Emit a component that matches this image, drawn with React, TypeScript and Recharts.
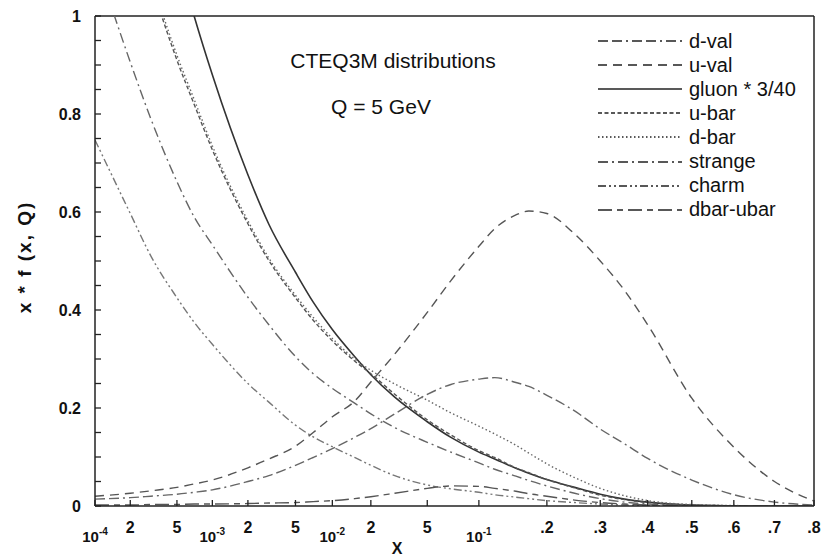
import { LineChart, Line, XAxis, YAxis, Legend, ReferenceLine } from 'recharts';

const xs = [1e-4, 2e-4, 3e-4, 5e-4, 7e-4, 1e-3, 2e-3, 3e-3, 5e-3, 7e-3, 1e-2, 1.5e-2, 2e-2, 3e-2, 5e-2, 7e-2, 0.1, 0.12, 0.15, 0.17, 0.2, 0.25, 0.3, 0.35, 0.4, 0.5, 0.6, 0.7, 0.8];

const dVal = [0.014, 0.017, 0.02, 0.024, 0.028, 0.033, 0.05, 0.062, 0.083, 0.099, 0.117, 0.14, 0.158, 0.188, 0.228, 0.248, 0.259, 0.262, 0.252, 0.244, 0.226, 0.194, 0.157, 0.127, 0.097, 0.053, 0.023, 0.008, 0.002];
const uVal = [0.02, 0.026, 0.031, 0.038, 0.045, 0.053, 0.078, 0.096, 0.122, 0.15, 0.182, 0.214, 0.253, 0.31, 0.395, 0.46, 0.53, 0.566, 0.594, 0.602, 0.597, 0.555, 0.5, 0.44, 0.37, 0.22, 0.12, 0.05, 0.01];
const gluon = [1.79, 1.49, 1.32, 1.125, 1.0, 0.88, 0.676, 0.575, 0.477, 0.416, 0.36, 0.305, 0.268, 0.222, 0.172, 0.14, 0.11, 0.096, 0.077, 0.067, 0.054, 0.038, 0.024, 0.014, 0.008, 0.002, 0.0005, 0, 0];
const uBar = [1.48, 1.22, 1.07, 0.91, 0.82, 0.727, 0.576, 0.501, 0.425, 0.379, 0.337, 0.296, 0.27, 0.228, 0.176, 0.145, 0.113, 0.099, 0.078, 0.068, 0.054, 0.037, 0.022, 0.013, 0.007, 0.002, 0.0005, 0, 0];
const dBar = [1.49, 1.23, 1.08, 0.92, 0.83, 0.735, 0.582, 0.506, 0.43, 0.385, 0.342, 0.3, 0.277, 0.249, 0.216, 0.19, 0.163, 0.147, 0.124, 0.108, 0.086, 0.058, 0.036, 0.021, 0.011, 0.003, 0.001, 0, 0];
const strange = [1.12, 0.906, 0.79, 0.662, 0.59, 0.533, 0.426, 0.37, 0.305, 0.27, 0.24, 0.21, 0.188, 0.16, 0.13, 0.11, 0.088, 0.075, 0.061, 0.052, 0.041, 0.026, 0.015, 0.008, 0.004, 0.001, 0, 0, 0];
const charm = [0.747, 0.597, 0.51, 0.425, 0.375, 0.33, 0.25, 0.212, 0.165, 0.141, 0.121, 0.099, 0.083, 0.062, 0.043, 0.035, 0.028, 0.023, 0.018, 0.015, 0.011, 0.007, 0.004, 0.002, 0.001, 0, 0, 0, 0];
const dbarUbar = [0.002, 0.002, 0.003, 0.003, 0.004, 0.004, 0.005, 0.006, 0.007, 0.009, 0.011, 0.015, 0.019, 0.026, 0.036, 0.041, 0.04, 0.036, 0.03, 0.025, 0.02, 0.012, 0.007, 0.004, 0.002, 0.001, 0, 0, 0];

const xTickValues = [1e-4, 2e-4, 5e-4, 1e-3, 2e-3, 5e-3, 1e-2, 2e-2, 5e-2, 0.1, 0.2, 0.3, 0.4, 0.5, 0.6, 0.7, 0.8];
const xTickLabels = ['10-4', '2', '5', '10-3', '2', '5', '10-2', '2', '5', '10-1', '.2', '.3', '.4', '.5', '.6', '.7', '.8'];
const yTickValues = [0, 0.05, 0.1, 0.15, 0.2, 0.25, 0.3, 0.35, 0.4, 0.45, 0.5, 0.55, 0.6, 0.65, 0.7, 0.75, 0.8, 0.85, 0.9, 0.95, 1];
const yTickLabels = ['0', '', '', '', '0.2', '', '', '', '0.4', '', '', '', '0.6', '', '', '', '0.8', '', '', '', '1'];

// x axis is logarithmic at small x and stretched towards linear at large x
const pos = (x: number) => Math.log10(x) + 2.8 * x;

const data = xs.map((x, i) => ({
  pos: pos(x),
  dval: dVal[i],
  uval: uVal[i],
  gluon: gluon[i],
  ubar: uBar[i],
  dbar: dBar[i],
  strange: strange[i],
  charm: charm[i],
  dbarubar: dbarUbar[i],
}));

const series = [
  { key: 'dval', name: 'd-val', dash: '10 4 10 4 2 4', color: '#666' },
  { key: 'uval', name: 'u-val', dash: '9 6', color: '#555' },
  { key: 'gluon', name: 'gluon * 3/40', dash: undefined, color: '#333' },
  { key: 'ubar', name: 'u-bar', dash: '4 2.5', color: '#555' },
  { key: 'dbar', name: 'd-bar', dash: '1.5 2.5', color: '#666' },
  { key: 'strange', name: 'strange', dash: '10 4 2 4', color: '#666' },
  { key: 'charm', name: 'charm', dash: '8 3 2 3 2 3', color: '#777' },
  { key: 'dbarubar', name: 'dbar-ubar', dash: '14 5 6 5', color: '#555' },
];

const FONT = '"Liberation Sans", Arial, sans-serif';

const XTick = (props: any) => {
  const { x, y, payload } = props;
  const i = xTickValues.findIndex((v) => Math.abs(pos(v) - payload.value) < 1e-9);
  const lab = xTickLabels[i] ?? '';
  if (lab.startsWith('10')) {
    return (
      <text x={x} y={y + 36} textAnchor="middle" fontSize={15} fontWeight="bold" fill="#111" fontFamily={FONT}>
        10<tspan fontSize={10} dy={-7}>{lab.slice(2)}</tspan>
      </text>
    );
  }
  return (
    <text x={x} y={y + 27} textAnchor="middle" fontSize={16} fontWeight="bold" fill="#111" fontFamily={FONT}>
      {lab}
    </text>
  );
};

const LegendBox = () => (
  <div style={{ fontFamily: FONT, fontSize: 20, color: '#111' }}>
    {series.map((s) => (
      <div key={s.key} style={{ display: 'flex', alignItems: 'center', height: 24.1 }}>
        <svg width={86} height={10}>
          <line x1={1} y1={5} x2={85} y2={5} stroke="#222" strokeWidth={1.4} strokeDasharray={s.dash} />
        </svg>
        <span style={{ marginLeft: 6, whiteSpace: 'nowrap' }}>{s.name}</span>
      </div>
    ))}
  </div>
);

const App = () => {
  return (
    <div style={{ position: 'absolute', left: 0, top: 0, width: 827, height: 558, background: '#fff', fontFamily: FONT }}>
      <LineChart width={827} height={558} data={data} margin={{ top: 16, right: 13, left: 35, bottom: 22 }}>
        <XAxis
          type="number"
          dataKey="pos"
          domain={[pos(1e-4), pos(0.8)]}
          ticks={xTickValues.map(pos)}
          interval={0}
          allowDataOverflow
          height={30}
          tickSize={-6}
          tickMargin={6}
          tick={XTick}
          axisLine={{ stroke: '#222', strokeWidth: 1.5 }}
          tickLine={{ stroke: '#222', strokeWidth: 1.3 }}
        />
        <YAxis
          type="number"
          domain={[0, 1]}
          ticks={yTickValues}
          interval={0}
          allowDataOverflow
          width={60}
          tickSize={-6}
          tickMargin={20}
          tickFormatter={(v: number) => yTickLabels[yTickValues.findIndex((t) => Math.abs(t - v) < 1e-9)] ?? ''}
          tick={{ fontSize: 16, fontWeight: 'bold', fill: '#111', fontFamily: FONT }}
          axisLine={{ stroke: '#222', strokeWidth: 1.5 }}
          tickLine={{ stroke: '#222', strokeWidth: 1.3 }}
        />
        <ReferenceLine y={1} stroke="#222" strokeWidth={1.5} />
        <ReferenceLine x={pos(0.8)} stroke="#222" strokeWidth={1.5} />
        {series.map((s) => (
          <Line
            key={s.key}
            type="monotone"
            dataKey={s.key}
            name={s.name}
            stroke={s.color}
            strokeWidth={s.key === 'gluon' ? 1.6 : 1.4}
            strokeDasharray={s.dash}
            dot={false}
            isAnimationActive={false}
          />
        ))}
        <Legend
          layout="vertical"
          align="center"
          verticalAlign="middle"
          content={LegendBox}
          wrapperStyle={{ left: 597, top: 29, width: 228 }}
        />
      </LineChart>
      <svg width={827} height={558} style={{ position: 'absolute', left: 0, top: 0, pointerEvents: 'none' }}>
        <text x={393} y={68} textAnchor="middle" fontSize={21} fill="#111" fontFamily={FONT}>
          CTEQ3M distributions
        </text>
        <text x={381} y={114} textAnchor="middle" fontSize={21} fill="#111" fontFamily={FONT}>
          Q = 5 GeV
        </text>
        <text x={397} y={554} textAnchor="middle" fontSize={16} fontWeight="bold" fill="#111" fontFamily={FONT}>
          X
        </text>
        <text transform="translate(31,257) rotate(-90)" textAnchor="middle" fontSize={19} fontWeight="bold" letterSpacing={2} fill="#111" fontFamily={FONT}>
          x * f (x, Q)
        </text>
      </svg>
    </div>
  );
};

export default App;
